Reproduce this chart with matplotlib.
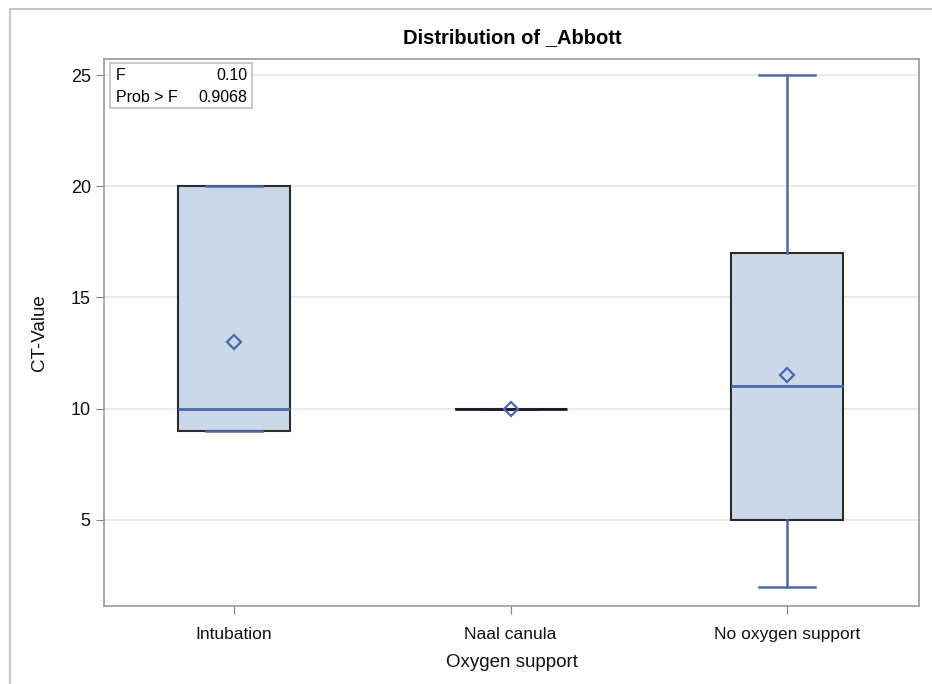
import matplotlib.pyplot as plt
from matplotlib.lines import Line2D
from matplotlib.patches import Rectangle

plt.rcParams['font.family'] = ['Liberation Sans', 'DejaVu Sans']

groups = ['Intubation', 'Naal canula', 'No oxygen support']
mins = [9, 10, 2]
q1s = [9, 10, 5]
medians = [10, 10, 11]
q3s = [20, 10, 17]
maxs = [20, 10, 25]
means = [13, 10, 11.5]
f_value = '0.10'
p_value = '0.9068'

stats = []
for name, lo, q1, med, q3, hi, mu in zip(groups, mins, q1s, medians, q3s, maxs, means):
    stats.append({'label': name, 'whislo': lo, 'q1': q1, 'med': med,
                  'q3': q3, 'whishi': hi, 'mean': mu, 'fliers': []})

blue = '#4a69ad'
W, H = 932, 684
fig = plt.figure(figsize=(W / 100, H / 100), dpi=100)
ax = fig.add_axes([104 / W, 1 - 606 / H, 815 / W, 547 / H])

parts = ax.bxp(stats, positions=range(len(groups)), widths=0.405, patch_artist=True,
               showmeans=True, showfliers=False,
               boxprops=dict(facecolor='#cbd8e8', edgecolor='#2b2b2b', linewidth=1.5),
               medianprops=dict(color=blue, linewidth=2),
               whiskerprops=dict(color=blue, linewidth=1.8),
               capprops=dict(color=blue, linewidth=1.8), capwidths=0.2,
               meanprops=dict(marker='D', markerfacecolor='none', markeredgecolor=blue,
                              markeredgewidth=1.6, markersize=7))
# a collapsed box shows only its dark outline
for i, (q1, q3) in enumerate(zip(q1s, q3s)):
    if q1 == q3:
        parts['medians'][i].set_color('#1a1a2a')
        parts['means'][i].set_zorder(5)

ax.set_xlim(-0.47, 2.477)
ax.set_ylim(1.13, 25.72)
ax.set_yticks([5, 10, 15, 20, 25])
ax.yaxis.grid(True, color='#e6e6e6', linewidth=1.2)
ax.set_axisbelow(True)
for s in ax.spines.values():
    s.set_color('#a0a0a0')
    s.set_linewidth(1.3)
ax.tick_params(colors='#808080', labelcolor='#111111', length=6)
ax.tick_params(axis='y', labelsize=13)
ax.tick_params(axis='x', labelsize=12.5, pad=9)
ax.set_xticks(range(len(groups)))
ax.set_xticklabels(groups)

ax.set_xlabel('Oxygen support', fontsize=13.5, labelpad=9, color='#111111')
ax.set_ylabel('CT-Value', fontsize=13.5, labelpad=16, color='#111111')
fig.text(512 / W, 1 - 38 / H, 'Distribution of _Abbott', ha='center', va='center',
         fontsize=14.5, fontweight='bold')

# statistics inset in the upper-left corner
fig.add_artist(Rectangle((110 / W, 1 - 108 / H), 142 / W, 45 / H, transform=fig.transFigure,
                         facecolor='white', edgecolor='#c0c0c0', linewidth=1.2, zorder=3))
fig.text(116 / W, 1 - 75 / H, 'F', ha='left', va='center', fontsize=11.5, zorder=4)
fig.text(116 / W, 1 - 97 / H, 'Prob > F', ha='left', va='center', fontsize=11.5, zorder=4)
fig.text(247 / W, 1 - 75 / H, f_value, ha='right', va='center', fontsize=11.5, zorder=4)
fig.text(247 / W, 1 - 97 / H, p_value, ha='right', va='center', fontsize=11.5, zorder=4)

# outer frame on the left and top edges
fig.add_artist(Line2D([10 / W, 10 / W], [0, 1 - 9 / H], color='#c8c8c8', linewidth=1.5))
fig.add_artist(Line2D([10 / W, 1], [1 - 9 / H, 1 - 9 / H], color='#c8c8c8', linewidth=1.5))

fig.savefig('out.png', dpi=100)
